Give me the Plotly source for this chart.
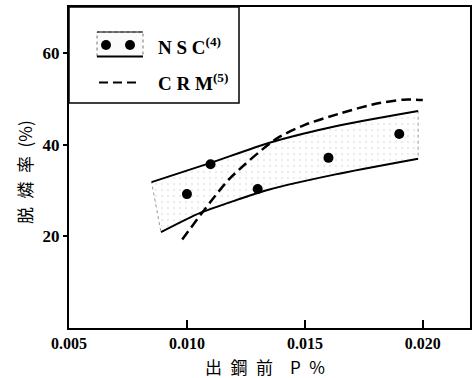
import plotly.graph_objects as go

# ---- data ----
p_nsc = [0.010, 0.011, 0.013, 0.016, 0.019]
rate_nsc = [29.2, 35.7, 30.3, 37.1, 42.3]

band_upper_x = [0.0085, 0.0110, 0.0135, 0.0163, 0.0198]
band_upper_y = [31.8, 36.0, 40.4, 44.0, 47.3]
band_lower_x = [0.0089, 0.01056, 0.0135, 0.0163, 0.0198]
band_lower_y = [20.9, 25.1, 30.2, 33.5, 36.9]

crm_x = [0.0098, 0.0118, 0.0138, 0.0150, 0.0165, 0.0180, 0.0192, 0.0200]
crm_y = [19.3, 32.5, 41.3, 44.3, 46.8, 48.9, 49.8, 49.7]

x_ticks = [0.005, 0.010, 0.015, 0.020]
x_ticktext = ["0.005", "0.010", "0.015", "0.020"]
y_ticks = [20, 40, 60]
y_ticktext = ["20", "40", "60"]

SP = "\u2002"
x_title = f"出{SP}鋼{SP}前{SP}{SP}P{SP}%"
y_title = f"脱{SP}燐{SP}率{SP}(%)"
nsc_label = "N S C<sup>(4)</sup>"
crm_label = "C R M<sup>(5)</sup>"

fig = go.Figure()

# band fill polygon
poly_x = band_upper_x + band_lower_x[::-1] + [band_upper_x[0]]
poly_y = band_upper_y + band_lower_y[::-1] + [band_upper_y[0]]
fig.add_trace(go.Scatter(x=poly_x, y=poly_y, mode="lines", fill="toself",
                         fillcolor="rgba(0,0,0,0.0)",
                         fillpattern=dict(shape=".", fgcolor="#c8c8c8", bgcolor="white", size=6, solidity=0.08),
                         line=dict(color="#999999", width=1, dash="dot"),
                         hoverinfo="skip", showlegend=False))
# band edges
fig.add_trace(go.Scatter(x=band_upper_x, y=band_upper_y, mode="lines",
                         line=dict(color="black", width=2, shape="spline", smoothing=0.6), showlegend=False))
fig.add_trace(go.Scatter(x=band_lower_x, y=band_lower_y, mode="lines",
                         line=dict(color="black", width=2, shape="spline", smoothing=0.6), showlegend=False))
# CRM dashed
fig.add_trace(go.Scatter(x=crm_x, y=crm_y, mode="lines",
                         line=dict(color="black", width=2.5, dash="10px,5px", shape="spline", smoothing=0.7),
                         showlegend=False))
# NSC points
fig.add_trace(go.Scatter(x=p_nsc, y=rate_nsc, mode="markers",
                         marker=dict(color="black", size=10), showlegend=False))

L, R, T, B = 69, 2, 7, 50
W, H = 472, 378
pw, ph = W - L - R, H - T - B


def px(x):
    return (x - L) / pw


def py(y):
    return (H - B - y) / ph


shapes = []
# legend box
shapes.append(dict(type="rect", xref="paper", yref="paper", x0=0, x1=px(239), y0=py(103), y1=1,
                   line=dict(color="black", width=1.5), fillcolor="white", layer="above"))
# NSC sample rectangle (dotted) with solid bottom
shapes.append(dict(type="rect", xref="paper", yref="paper", x0=px(97), x1=px(143), y0=py(56.5), y1=py(32),
                   line=dict(color="#777777", width=1, dash="dot"), fillcolor="rgba(0,0,0,0.02)", layer="above"))
shapes.append(dict(type="line", xref="paper", yref="paper", x0=px(97), x1=px(143), y0=py(56.5), y1=py(56.5),
                   line=dict(color="black", width=2), layer="above"))
shapes.append(dict(type="line", xref="paper", yref="paper", x0=px(97), x1=px(143), y0=py(32), y1=py(32),
                   line=dict(color="black", width=1), layer="above"))
for cx in (106, 130):
    shapes.append(dict(type="circle", xref="paper", yref="paper", x0=px(cx - 5), x1=px(cx + 5),
                       y0=py(50), y1=py(40), fillcolor="black", line=dict(color="black", width=0), layer="above"))
# CRM dashed sample
shapes.append(dict(type="line", xref="paper", yref="paper", x0=px(99), x1=px(140), y0=py(82.5), y1=py(82.5),
                   line=dict(color="black", width=2, dash="9px,5px"), layer="above"))

annotations = [
    dict(text=nsc_label, xref="paper", yref="paper", x=px(156), y=py(46), xanchor="left", yanchor="middle",
         showarrow=False, font=dict(family="Liberation Serif", size=19, color="black", weight="bold")),
    dict(text=crm_label, xref="paper", yref="paper", x=px(156), y=py(82), xanchor="left", yanchor="middle",
         showarrow=False, font=dict(family="Liberation Serif", size=19, color="black", weight="bold")),
    dict(text=x_title, xref="paper", yref="paper", x=px(265), y=py(366), xanchor="center", yanchor="middle",
         showarrow=False, font=dict(family="Noto Sans CJK JP", size=17, color="black")),
    dict(text=y_title, xref="paper", yref="paper", x=px(25), y=py(172), xanchor="center", yanchor="middle",
         textangle=-90, showarrow=False, font=dict(family="Noto Sans CJK JP", size=17, color="black")),
]

fig.update_layout(
    width=W, height=H,
    margin=dict(l=L, r=R, t=T, b=B, autoexpand=False),
    paper_bgcolor="white", plot_bgcolor="white",
    shapes=shapes, annotations=annotations,
    xaxis=dict(range=[0.005, 0.022], tickvals=x_ticks, ticktext=x_ticktext, automargin=False,
               ticks="inside", ticklen=8, tickcolor="black", tickwidth=1.5,
               showgrid=False, zeroline=False, showline=True, mirror=True,
               linecolor="black", linewidth=2,
               tickfont=dict(family="Liberation Serif", size=16, color="black", weight="bold")),
    yaxis=dict(range=[0, 70], tickvals=y_ticks, ticktext=y_ticktext, automargin=False,
               ticks="outside", ticklen=4, tickcolor="black", tickwidth=1.5,
               showgrid=False, zeroline=False, showline=True, mirror=True,
               linecolor="black", linewidth=2,
               tickfont=dict(family="Liberation Serif", size=17, color="black", weight="bold")),
    showlegend=False,
)

fig.write_html("out.html", config={"displayModeBar": False},
               post_script="document.body.style.margin='0';document.body.style.overflow='hidden';")
